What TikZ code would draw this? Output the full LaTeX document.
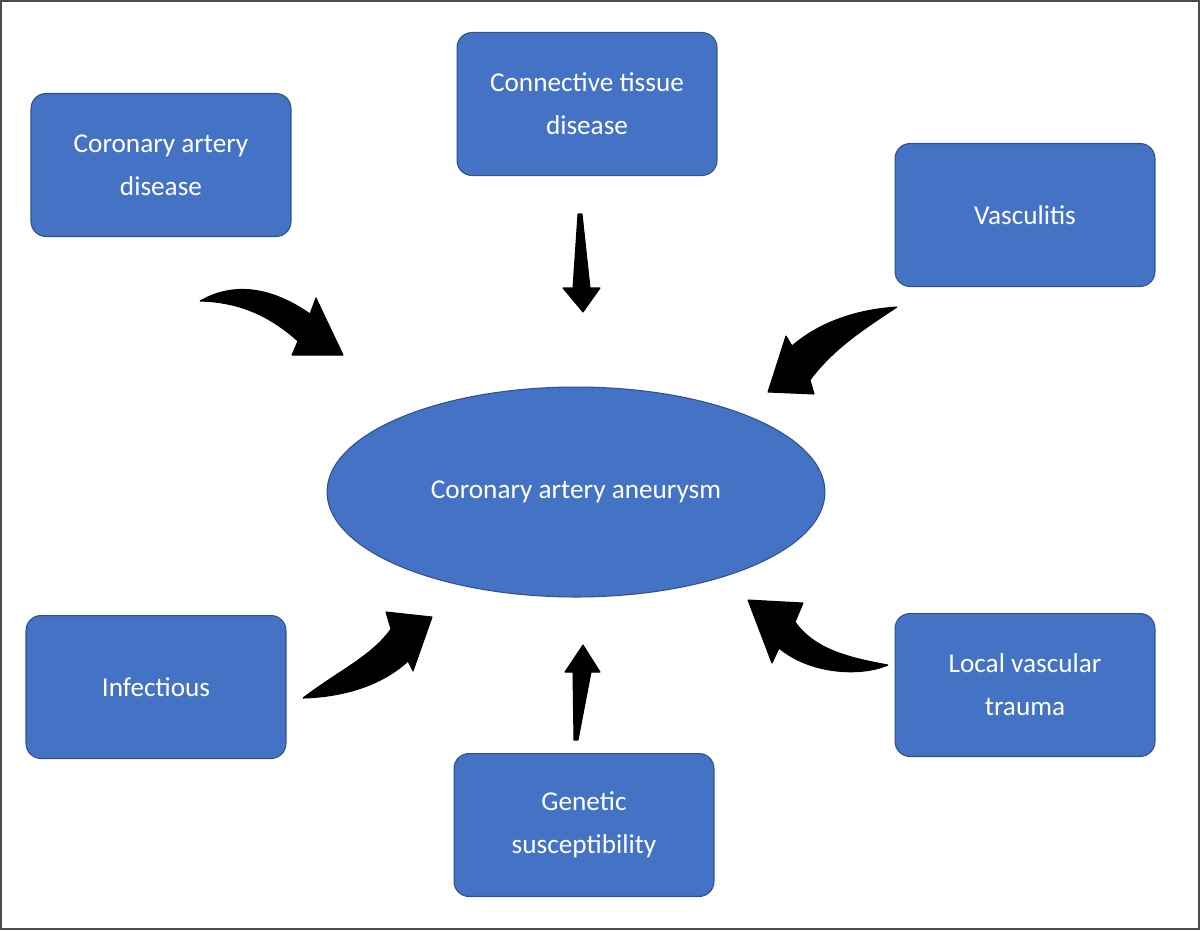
\documentclass[tikz,border=0pt]{standalone}
\usepackage{fontspec}
\setmainfont{Carlito}
\usetikzlibrary{positioning,shapes.geometric}
\definecolor{boxblue}{HTML}{4472C4}
\definecolor{boxline}{HTML}{2F528F}
\begin{document}
\begin{tikzpicture}[x=0.02cm, y=-0.02cm,
  main/.style={rectangle, rounded corners=0.3cm, draw=boxline, fill=boxblue, line width=0.6pt,
    minimum width=5.2cm, minimum height=2.86cm, text width=4.9cm, align=flush center, text=white,
    font=\fontsize{15.5}{24.5}\selectfont},
  centre/.style={ellipse, draw=boxline, fill=boxblue, line width=0.6pt,
    minimum width=9.96cm, minimum height=4.2cm, text=white, font=\fontsize{15.5}{24.5}\selectfont},
  ar/.style={fill=black, draw=black, line width=0.6pt, line join=round}]
  \useasboundingbox (0,0) rectangle (1200,931);
  \draw[line width=0.04cm, black!70] (1,1) rectangle (1199,929);

  \node[centre] (caa) at (576,492) {Coronary artery aneurysm};
  \node[main] (cad) at (161,165) {Coronary artery\\disease};
  \node[main] (ctd) at (587,104) {Connective tissue\\disease};
  \node[main] (vas) at (1025,215) {Vasculitis};
  \node[main] (inf) at (156,687) {Infectious};
  \node[main] (gen) at (584,825) {Genetic\\susceptibility};
  \node[main] (lvt) at (1025,685) {Local vascular\\trauma};

  % tails and tips of the block arrows
  \coordinate (cadT) at (200,301);  \coordinate (cadH) at (343,355);
  \coordinate (ctdT) at (578,214);  \coordinate (ctdH) at (583,312);
  \coordinate (vasT) at (897,307);  \coordinate (vasH) at (768,392);
  \coordinate (infT) at (303,698);  \coordinate (infH) at (432,617);
  \coordinate (genT) at (578,740);  \coordinate (genH) at (583,645);
  \coordinate (lvtT) at (888,665);  \coordinate (lvtH) at (748,600);

  \fill[ar] (cadT) .. controls (240,278) and (280,293) .. (310,314) -- (316,298) -- (cadH)
    -- (292,355) -- (298,341) .. controls (270,316) and (240,302) .. (cadT);
  \fill[ar] (ctdT) -- (582,214) -- (590,288) -- (600,288) -- (ctdH) -- (563,288) -- (573,288) -- (ctdT);
  \fill[ar] (vasT) .. controls (850,310) and (815,326) .. (792,346) -- (786,336) -- (vasH)
    -- (814,394) -- (810,380) .. controls (832,350) and (862,330) .. (vasT);
  \fill[ar] (infT) .. controls (340,670) and (372,656) .. (391,629) -- (386,612) -- (infH)
    -- (413,671) -- (408,661) .. controls (380,687) and (340,697) .. (infT);
  \fill[ar] (genT) -- (574,740) -- (573,672) -- (565,672) -- (genH) -- (600,672) -- (591,672) -- (genT);
  \fill[ar] (lvtT) .. controls (850,658) and (815,650) .. (795,622) -- (803,603) -- (lvtH)
    -- (772,663) -- (779,648) .. controls (810,674) and (860,677) .. (lvtT);
\end{tikzpicture}
\end{document}
